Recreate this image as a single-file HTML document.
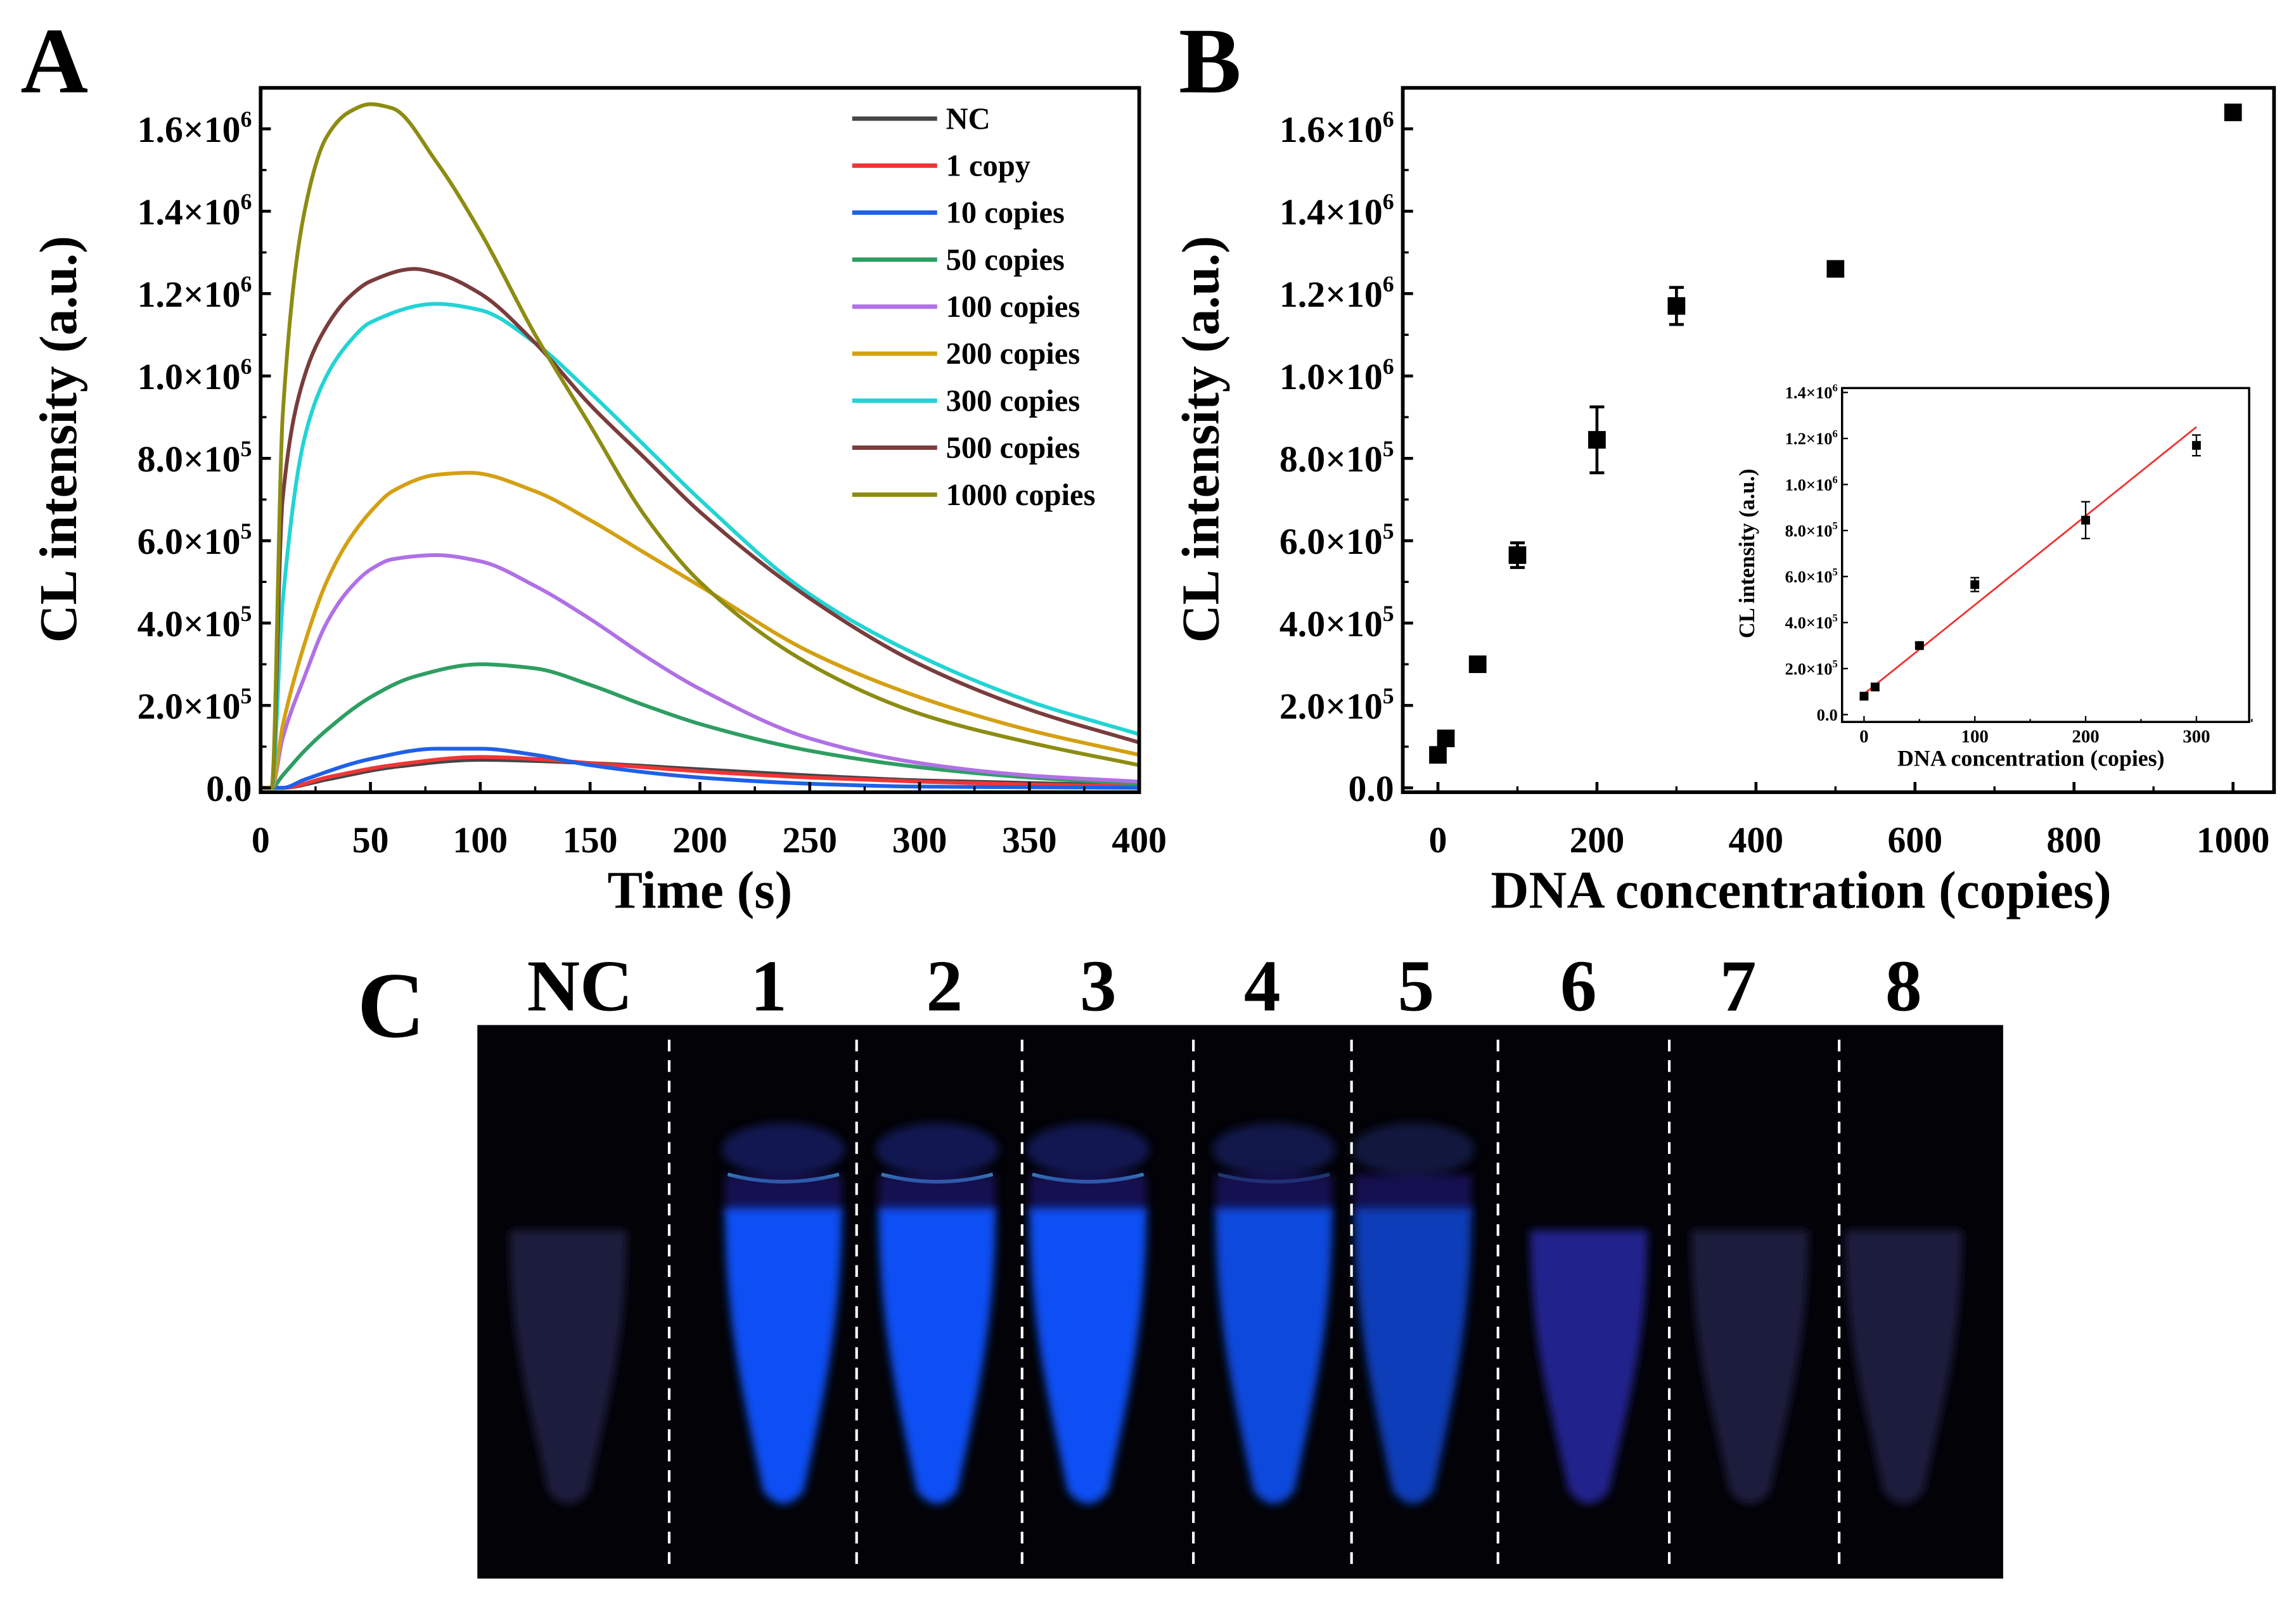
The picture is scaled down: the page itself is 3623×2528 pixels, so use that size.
<!DOCTYPE html>
<html><head><meta charset="utf-8"><style>
html,body{margin:0;padding:0;background:#fff;}
svg{display:block;}
text{font-family:"Liberation Serif",serif;font-weight:bold;fill:#000;}
</style></head>
<body>
<svg id="fig" width="3623" height="2528" viewBox="0 0 1568 1094" preserveAspectRatio="none" xmlns="http://www.w3.org/2000/svg">
<defs>
<filter id="blur3" x="-50%" y="-50%" width="200%" height="200%"><feGaussianBlur stdDeviation="3"/></filter>
</defs>
<g id="panelA"></g>
<g id="panelB"></g>
<g id="panelC"></g>
</svg>
<script>
// ---------- Panel A data ----------
const seriesNames = ["NC","1 copy","10 copies","50 copies","100 copies","200 copies","300 copies","500 copies","1000 copies"];
const seriesColors = ["#454545","#f03535","#1f60e8","#2e9e62","#b070e6","#d4a012","#22d4d4","#7a3c3c","#8c8c12"];
const tNC = [0,10,30,60,100,150,200,250,300,400];
const vNC = [0,0,0.02,0.05,0.068,0.06,0.045,0.03,0.018,0.006];
const t1 = [0,10,30,60,100,125,150,200,250,300,350,400];
const v1 = [0,0,0.025,0.055,0.075,0.07,0.06,0.04,0.025,0.015,0.008,0.004];
const t10 = [0,10,20,50,80,100,125,150,200,250,300,400];
const v10 = [0,0,0.02,0.07,0.095,0.095,0.08,0.055,0.025,0.01,0.003,0];
const t50 = [0,5,10,20,30,50,70,100,125,150,175,200,250,300,350,400];
const v50 = [0,0,0.03,0.09,0.14,0.22,0.27,0.30,0.29,0.25,0.2,0.155,0.09,0.05,0.025,0.01];
const t100 = [0,5,10,20,30,40,50,60,80,100,125,150,175,200,250,300,350,400];
const v100 = [0,0,0.12,0.27,0.4,0.48,0.53,0.555,0.565,0.55,0.49,0.41,0.32,0.24,0.12,0.06,0.03,0.015];
const t200 = [0,5,10,20,30,40,50,60,80,95,125,150,175,200,250,300,350,400];
const v200 = [0,0,0.15,0.35,0.5,0.6,0.67,0.72,0.76,0.765,0.72,0.65,0.57,0.49,0.33,0.22,0.14,0.08];
const t300 = [0,5,10,20,30,40,50,80,100,125,150,175,200,250,300,350,400];
const v300 = [0,0,0.45,0.85,1.0,1.08,1.13,1.175,1.16,1.08,0.96,0.83,0.7,0.47,0.32,0.21,0.13];
const t500 = [0,5,10,20,30,40,50,70,80,100,125,150,175,200,250,300,350,400];
const v500 = [0,0,0.7,1.0,1.12,1.19,1.23,1.26,1.25,1.2,1.08,0.93,0.8,0.67,0.46,0.3,0.19,0.11];
const t1000 = [0,5,10,20,30,40,50,60,80,100,125,150,175,200,250,300,350,400];
const v1000 = [0,0,0.9,1.4,1.58,1.64,1.66,1.65,1.52,1.35,1.1,0.88,0.66,0.5,0.3,0.18,0.11,0.055];
const seriesT = [tNC,t1,t10,t50,t100,t200,t300,t500,t1000];
const seriesV = [vNC,v1,v10,v50,v100,v200,v300,v500,v1000];
const yTicksA = [0,0.2,0.4,0.6,0.8,1.0,1.2,1.4,1.6];
const yTickLabelsA = [["0.0",""],["2.0×10","5"],["4.0×10","5"],["6.0×10","5"],["8.0×10","5"],["1.0×10","6"],["1.2×10","6"],["1.4×10","6"],["1.6×10","6"]];
const xTicksA = [0,50,100,150,200,250,300,350,400];

// ---------- Panel B data ----------
const concB = [0,10,50,100,200,300,500,1000];
const intB = [0.08,0.12,0.30,0.565,0.845,1.17,1.26,1.64];
const errB = [0.012,0.015,0.01,0.03,0.08,0.045,0.01,0.015];
const xTicksB = [0,200,400,600,800,1000];
// inset
const concI = [0,10,50,100,200,300];
const intI = [0.08,0.12,0.30,0.565,0.845,1.17];
const errI = [0.01,0.015,0.01,0.03,0.08,0.045];
const fitX = [0,300];
const fitY = [0.09,1.25];
const yTicksI = [0,0.2,0.4,0.6,0.8,1.0,1.2,1.4];
const yTickLabelsI = [["0.0",""],["2.0×10","5"],["4.0×10","5"],["6.0×10","5"],["8.0×10","5"],["1.0×10","6"],["1.2×10","6"],["1.4×10","6"]];
const xTicksI = [0,100,200,300];

// ---------- Panel C data ----------
const laneLabels = ["NC","1","2","3","4","5","6","7","8"];
const laneLabelX = [396,525,645,750,862,967,1078,1187,1300];
const laneBrightness = [0.12,1,1,1,0.9,0.75,0.35,0.12,0.12];

const NS = "http://www.w3.org/2000/svg";
function mk(tag, attrs, parent){const e=document.createElementNS(NS,tag);for(const k in attrs)e.setAttribute(k,attrs[k]);if(parent)parent.appendChild(e);return e;}
function sciText(parent, x, y, parts, size, anchor){
  const t=mk("text",{x:x,y:y,"font-size":size,"text-anchor":anchor},parent);
  t.appendChild(document.createTextNode(parts[0]));
  if(parts[1]){const s=mk("tspan",{"font-size":size*0.62,dy:-size*0.42},t);s.textContent=parts[1];}
  return t;
}
function monoPath(pts){
  const n=pts.length, dx=[], m=[], tan=[];
  for(let i=0;i<n-1;i++){dx.push(pts[i+1][0]-pts[i][0]);m.push((pts[i+1][1]-pts[i][1])/dx[i]);}
  tan[0]=m[0];tan[n-1]=m[n-2];
  for(let i=1;i<n-1;i++){
    if(m[i-1]*m[i]<=0) tan[i]=0;
    else{const w1=2*dx[i]+dx[i-1],w2=dx[i]+2*dx[i-1];tan[i]=(w1+w2)/(w1/m[i-1]+w2/m[i]);}
  }
  let d="M"+pts[0][0].toFixed(2)+","+pts[0][1].toFixed(2);
  for(let i=0;i<n-1;i++){
    const h=dx[i]/3;
    d+=" C"+(pts[i][0]+h).toFixed(2)+","+(pts[i][1]+tan[i]*h).toFixed(2)+" "+(pts[i+1][0]-h).toFixed(2)+","+(pts[i+1][1]-tan[i+1]*h).toFixed(2)+" "+pts[i+1][0].toFixed(2)+","+pts[i+1][1].toFixed(2);
  }
  return d;
}

// ===== Panel A =====
(function(){
  const g=document.getElementById("panelA");
  const L=178,R=778,T=60,B=541;
  const xA=v=>L+(v/400)*(R-L);
  const yA=v=>538-(v/1.6)*450;
  const lab=mk("text",{x:14,y:63,"font-size":64},g);lab.textContent="A";
  
  
  const cg=mk("g",{},g);
  
  
  for(let s=0;s<seriesNames.length;s++){
    const pts=seriesT[s].map((t,i)=>[xA(t),yA(seriesV[s][i])]);
    const p=mk("path",{d:monoPath(pts),fill:"none",stroke:seriesColors[s],"stroke-width":2.6,"stroke-linejoin":"round"},cg);
    
    
  }
  const box=mk("rect",{x:L,y:T,width:R-L,height:B-T,fill:"none",stroke:"#000","stroke-width":2.5},g);
  
  
  yTicksA.forEach((v,i)=>{
    mk("line",{x1:L,x2:L+7,y1:yA(v),y2:yA(v),stroke:"#000","stroke-width":2},g);
    if(i<yTicksA.length-1) mk("line",{x1:L,x2:L+4,y1:yA(v+0.1),y2:yA(v+0.1),stroke:"#000","stroke-width":1.5},g);
    const t=sciText(g,L-6,yA(v)+9,yTickLabelsA[i],25,"end");
    
    
  });
  xTicksA.forEach((v,i)=>{
    mk("line",{x1:xA(v),x2:xA(v),y1:B,y2:B-7,stroke:"#000","stroke-width":2},g);
    if(i<xTicksA.length-1) mk("line",{x1:xA(v+25),x2:xA(v+25),y1:B,y2:B-4,stroke:"#000","stroke-width":1.5},g);
    const t=mk("text",{x:xA(v),y:582,"font-size":25,"text-anchor":"middle"},g);t.textContent=v;
    
    
  });
  const xt=mk("text",{x:(L+R)/2,y:620,"font-size":36,"text-anchor":"middle"},g);xt.textContent="Time (s)";
  
  
  const yt=mk("text",{x:0,y:0,"font-size":36,"text-anchor":"middle",transform:"translate(52,300) rotate(-90)"},g);yt.textContent="CL intensity (a.u.)";
  
  
  for(let s=0;s<seriesNames.length;s++){
    const y=81+s*32.1;
    const le=mk("g",{},g);
    
    
    mk("line",{x1:582,x2:640,y1:y,y2:y,stroke:seriesColors[s],"stroke-width":3},le);
    const t=mk("text",{x:646,y:y+7,"font-size":21},le);t.textContent=seriesNames[s];
  }
})();

// ===== Panel B =====
(function(){
  const g=document.getElementById("panelB");
  const L=958,R=1553,T=60,B=541;
  const xB=v=>982+(v/1000)*(1525-982);
  const yB=v=>538-(v/1.6)*450;
  const lab=mk("text",{x:805,y:63,"font-size":64},g);lab.textContent="B";
  
  
  const box=mk("rect",{x:L,y:T,width:R-L,height:B-T,fill:"none",stroke:"#000","stroke-width":2.5},g);
  
  
  yTicksA.forEach((v,i)=>{
    mk("line",{x1:L,x2:L+7,y1:yB(v),y2:yB(v),stroke:"#000","stroke-width":2},g);
    if(i<yTicksA.length-1) mk("line",{x1:L,x2:L+4,y1:yB(v+0.1),y2:yB(v+0.1),stroke:"#000","stroke-width":1.5},g);
    const t=sciText(g,L-6,yB(v)+9,yTickLabelsA[i],25,"end");
    
    
  });
  xTicksB.forEach((v,i)=>{
    mk("line",{x1:xB(v),x2:xB(v),y1:B,y2:B-7,stroke:"#000","stroke-width":2},g);
    if(i<xTicksB.length-1) mk("line",{x1:xB(v+100),x2:xB(v+100),y1:B,y2:B-4,stroke:"#000","stroke-width":1.5},g);
    const t=mk("text",{x:xB(v),y:582,"font-size":25,"text-anchor":"middle"},g);t.textContent=v;
    
    
  });
  const xt=mk("text",{x:1230,y:620,"font-size":36,"text-anchor":"middle"},g);xt.textContent="DNA concentration (copies)";
  
  
  const yt=mk("text",{x:0,y:0,"font-size":36,"text-anchor":"middle",transform:"translate(832,300) rotate(-90)"},g);yt.textContent="CL intensity (a.u.)";
  
  
  concB.forEach((c,i)=>{
    const x=xB(c),y=yB(intB[i]),e=errB[i]*450/1.6;
    const pg=mk("g",{},g);
    
    
    mk("line",{x1:x,x2:x,y1:y-e,y2:y+e,stroke:"#000","stroke-width":2},pg);
    mk("line",{x1:x-5,x2:x+5,y1:y-e,y2:y-e,stroke:"#000","stroke-width":2},pg);
    mk("line",{x1:x-5,x2:x+5,y1:y+e,y2:y+e,stroke:"#000","stroke-width":2},pg);
    mk("rect",{x:x-6,y:y-6,width:12,height:12,fill:"#000"},pg);
  });
  const IL=1258,IR=1536,IT=265,IB=493;
  const xI=v=>1273+(v/300)*(1500-1273);
  const yI=v=>488-(v/1.4)*(488-268);
  const ig=mk("g",{},g);
  
  
  mk("rect",{x:IL,y:IT,width:IR-IL,height:IB-IT,fill:"#fff",stroke:"#000","stroke-width":1.5},ig);
  yTicksI.forEach((v,i)=>{
    mk("line",{x1:IL,x2:IL+4,y1:yI(v),y2:yI(v),stroke:"#000","stroke-width":1},ig);
    const t=sciText(ig,IL-3,yI(v)+4,yTickLabelsI[i],11.5,"end");
    
    
  });
  xTicksI.forEach(v=>{
    mk("line",{x1:xI(v),x2:xI(v),y1:IB,y2:IB-4,stroke:"#000","stroke-width":1},ig);
    mk("line",{x1:xI(v+50),x2:xI(v+50),y1:IB,y2:IB-2,stroke:"#000","stroke-width":1},ig);
    const t=mk("text",{x:xI(v),y:IB+14,"font-size":12.5,"text-anchor":"middle"},ig);t.textContent=v;
    
    
  });
  const ixt=mk("text",{x:1387,y:IB+30,"font-size":15.5,"text-anchor":"middle"},ig);ixt.textContent="DNA concentration (copies)";
  
  
  const iyt=mk("text",{x:0,y:0,"font-size":15,"text-anchor":"middle",transform:"translate(1198,378) rotate(-90)"},ig);iyt.textContent="CL intensity (a.u.)";
  
  
  const fl=mk("line",{x1:xI(fitX[0]),y1:yI(fitY[0]),x2:xI(fitX[1]),y2:yI(fitY[1]),stroke:"#f03030","stroke-width":1.2},ig);
  
  
  concI.forEach((c,i)=>{
    const x=xI(c),y=yI(intI[i]),e=errI[i]*(488-268)/1.4;
    const pg=mk("g",{},ig);
    
    
    mk("line",{x1:x,x2:x,y1:y-e,y2:y+e,stroke:"#000","stroke-width":1},pg);
    mk("line",{x1:x-3,x2:x+3,y1:y-e,y2:y-e,stroke:"#000","stroke-width":1},pg);
    mk("line",{x1:x-3,x2:x+3,y1:y+e,y2:y+e,stroke:"#000","stroke-width":1},pg);
    mk("rect",{x:x-3,y:y-3,width:6,height:6,fill:"#000"},pg);
  });
})();

// ===== Panel C =====
(function(){
  const g=document.getElementById("panelC");
  const lab=mk("text",{x:244,y:708,"font-size":64},g);lab.textContent="C";
  
  
  laneLabels.forEach((l,i)=>{
    const t=mk("text",{x:laneLabelX[i],y:690,"font-size":50,"text-anchor":"middle"},g);t.textContent=l;
    
    
  });
  const photo=mk("g",{},g);
  
  
  mk("rect",{x:326,y:700,width:1042,height:378,fill:"#020207"},photo);
  const tubeX=[388,535,640,743,870,965,1085,1195,1300];
  tubeX.forEach((cx,i)=>{
    const b=laneBrightness[i];
    const tg=mk("g",{},photo);
    
    
    let col, top;
    if(b>0.6){col="rgb("+Math.round(16*b)+","+Math.round(80*b)+","+Math.round(245*b)+")";top=825;}
    else if(b>0.3){col="rgb(36,32,140)";top=840;}
    else{col="rgb(30,28,62)";top=840;}
    if(b>0.6){
      mk("ellipse",{cx:cx,cy:785,rx:42,ry:18,fill:"rgb(30,40,"+Math.round(130*b)+")",opacity:0.6,filter:"url(#blur3)"},tg);
      if(i<=4) mk("path",{d:"M"+(cx-38)+",802 Q"+cx+",812 "+(cx+38)+",802",fill:"none",stroke:"#3fa8e0","stroke-width":2.5,opacity:b>0.95?0.9:0.4},tg);
      mk("rect",{x:cx-40,y:802,width:80,height:28,fill:"rgb(40,30,140)",opacity:0.55,filter:"url(#blur3)"},tg);
    }
    mk("path",{d:"M"+(cx-40)+","+top+" C"+(cx-40)+","+(top+80)+" "+(cx-26)+",960 "+(cx-14)+",1018 Q"+cx+",1036 "+(cx+14)+",1018 C"+(cx+26)+",960 "+(cx+40)+","+(top+80)+" "+(cx+40)+","+top+" Z",fill:col,filter:"url(#blur3)"},tg);
  });
  const divX=[457,585,698,815,923,1023,1140,1256];
  divX.forEach(x=>{
    const l=mk("line",{x1:x,x2:x,y1:710,y2:1070,stroke:"#fff","stroke-width":1.8,"stroke-dasharray":"8,6"},photo);
    
    
  });
})();
</script>
</body></html>
